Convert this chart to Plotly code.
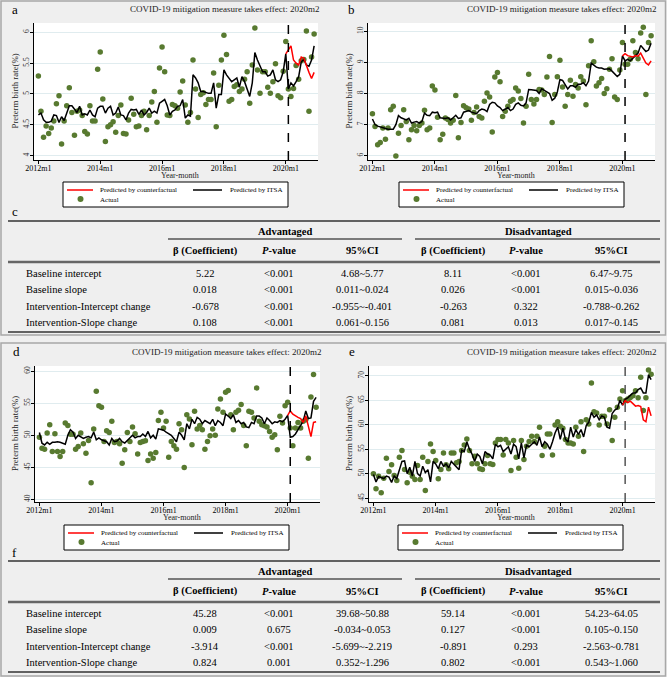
import plotly.graph_objects as go

W, H = 667, 677
FONT = "Liberation Serif"

# ---------------- data ----------------
months = list(range(108))           # 0 = 2012m1 ... 107 = 2020m12
cf_months = list(range(96, 108))
x_tickvals = [0, 24, 48, 72, 96]
x_ticklabels = ["2012m1", "2014m1", "2016m1", "2018m1", "2020m1"]
intervention_month = 97             # 2020m2

actual_a = [5.29,4.72,4.30,4.48,4.36,4.45,4.56,4.84,4.97,4.19,
            4.56,4.81,5.10,4.70,4.33,4.72,4.74,4.65,4.39,4.35,
            4.81,4.56,4.56,5.40,5.68,4.92,4.23,4.47,4.50,4.55,
            4.38,4.65,4.82,4.36,4.35,4.58,4.93,4.67,4.47,4.48,
            4.65,4.72,4.42,4.65,4.87,5.04,4.54,5.42,5.76,5.36,
            4.66,4.65,4.83,4.81,4.77,5.03,5.21,4.82,4.54,4.70,
            5.55,5.08,4.62,4.99,5.02,4.83,4.91,4.91,5.34,4.47,
            5.14,5.55,5.95,5.64,4.88,4.91,5.12,5.15,5.04,5.08,
            5.24,5.36,4.85,5.47,6.07,5.39,5.01,5.36,5.36,5.11,
            5.01,5.20,5.49,4.97,4.94,5.37,5.85,5.08,4.96,5.09,
            5.46,5.24,5.54,5.56,6.02,4.72,5.60,5.97]
itsa_a = [4.66,4.69,4.58,4.54,4.54,4.56,4.66,4.65,4.54,4.63,
          4.57,4.69,4.81,4.81,4.75,4.70,4.80,4.66,4.68,4.66,
          4.74,4.66,4.63,4.77,4.80,4.80,4.69,4.77,4.80,4.66,
          4.69,4.79,4.66,4.65,4.58,4.69,4.75,4.74,4.75,4.67,
          4.74,4.66,4.70,4.77,4.69,4.72,4.69,4.85,4.88,4.91,
          4.81,4.66,4.72,4.74,4.80,4.81,4.91,4.61,4.66,4.64,
          5.31,5.26,5.18,5.04,5.04,5.02,5.01,5.01,5.18,4.77,
          4.99,4.99,5.39,5.31,5.26,5.20,5.23,5.26,5.11,5.28,
          5.20,5.07,4.96,5.18,5.67,5.55,5.44,5.36,5.36,5.29,
          5.31,5.39,5.23,5.20,5.23,5.36,5.65,5.08,5.18,5.13,
          5.20,5.28,5.52,5.56,5.47,5.45,5.55,5.78]
cf_a = [5.65,5.72,5.78,5.55,5.50,5.47,5.60,5.58,5.45,5.35,5.25,5.35]

actual_b = [7.35,6.94,6.35,6.42,6.89,6.53,6.89,7.48,7.59,5.99,
            6.72,6.97,7.48,7.10,6.51,6.83,6.97,6.80,6.97,7.05,
            7.46,6.83,6.89,8.24,8.11,7.24,6.51,6.69,7.21,7.16,
            7.05,7.14,7.94,6.58,7.07,7.61,7.54,7.50,7.14,7.39,
            7.57,7.26,7.21,7.75,8.02,7.89,6.76,8.53,8.68,8.38,
            7.26,7.43,7.59,7.75,7.81,8.18,8.08,7.84,7.05,7.59,
            8.62,7.81,7.66,7.81,8.13,8.11,7.97,8.53,9.19,7.07,
            7.97,8.54,9.07,8.21,7.59,7.97,8.43,7.91,8.29,8.18,
            8.54,8.40,7.64,8.89,9.70,9.02,8.24,8.35,8.48,8.00,
            8.15,8.78,9.12,7.89,7.81,8.76,9.64,8.94,8.94,9.10,
            9.70,9.32,9.12,9.95,10.13,7.97,9.64,9.86]
itsa_b = [7.18,7.00,6.95,6.92,6.90,6.88,6.85,6.85,6.85,7.00,
          7.29,7.22,7.18,7.15,7.20,7.05,7.08,7.10,7.05,7.10,
          7.37,7.30,7.29,7.40,7.38,7.40,7.22,7.20,7.20,7.22,
          7.15,7.22,7.30,7.20,7.22,7.40,7.42,7.45,7.40,7.38,
          7.35,7.45,7.50,7.48,7.42,7.65,7.72,7.70,7.60,7.55,
          7.45,7.50,7.55,7.45,7.50,7.65,7.70,7.62,7.60,7.70,
          8.13,8.12,8.10,8.10,8.00,8.15,8.10,8.05,8.00,7.78,
          7.85,8.05,8.45,8.42,8.30,8.15,8.25,8.25,8.20,8.30,
          8.30,8.35,8.25,8.40,8.98,8.92,8.85,8.82,8.82,8.78,
          8.78,8.80,8.72,8.65,8.55,8.62,9.21,9.05,9.10,9.05,
          9.15,9.22,9.30,9.55,9.45,9.35,9.40,9.62]
cf_b = [9.21,9.28,9.22,9.20,9.18,9.22,9.20,9.30,9.15,8.98,8.92,9.05]

actual_d = [49.71,47.99,47.83,50.34,51.64,47.47,50.23,47.47,46.68,47.47,
            51.91,51.54,50.18,50.18,47.83,48.25,50.34,48.67,47.21,49.19,
            42.61,50.97,56.87,54.62,54.36,49.03,50.70,50.44,52.17,48.88,
            49.03,48.67,45.64,47.73,50.44,49.03,51.28,50.23,47.10,48.88,
            49.03,49.14,46.06,47.10,46.42,47.31,52.32,53.58,51.12,52.17,
            46.58,49.03,48.36,47.83,51.80,50.86,44.96,53.21,52.53,48.51,
            53.73,50.97,51.54,50.86,47.83,49.03,49.92,50.97,50.00,54.10,
            55.67,53.58,56.71,56.97,53.21,50.86,53.58,53.89,54.78,51.54,
            48.36,53.73,53.58,52.69,57.39,52.17,51.64,51.49,51.28,50.60,
            49.71,50.08,47.73,52.95,51.91,54.62,55.14,51.12,48.36,51.12,
            52.01,51.12,52.17,52.43,46.42,55.98,59.48,54.36]
itsa_d = [50.44,48.77,48.50,48.90,48.60,48.90,48.90,49.00,48.90,48.80,
          48.60,50.00,50.86,50.50,49.50,50.00,49.80,49.50,49.70,49.80,
          49.60,50.50,49.30,49.60,49.30,49.20,49.00,48.50,49.50,49.00,
          49.10,49.50,49.00,48.80,49.20,49.50,50.00,49.60,49.80,49.80,
          50.20,49.80,50.60,49.60,50.00,49.40,51.00,50.90,50.80,50.50,
          50.20,50.00,49.50,49.00,50.50,50.00,49.30,51.80,51.00,52.50,
          51.80,52.80,52.50,51.80,52.30,52.00,51.80,52.50,51.50,52.30,
          52.00,51.50,53.30,53.00,52.60,53.20,52.00,52.30,51.80,52.00,
          51.30,51.20,52.00,51.80,53.00,53.00,52.70,51.80,52.70,52.30,
          51.80,52.10,52.00,52.30,52.10,52.50,53.10,49.70,49.80,50.20,
          50.80,51.50,52.20,53.80,52.60,52.70,55.30,55.90]
cf_d = [53.10,53.80,53.30,53.00,52.80,52.60,52.00,53.00,51.30,49.80,52.00,52.10]

actual_e = [49.96,46.90,49.48,46.09,49.08,53.15,50.43,51.79,49.62,48.60,
            53.36,54.71,50.84,48.13,50.30,49.48,48.80,51.66,48.80,53.36,
            46.56,52.47,56.07,54.51,52.68,48.94,50.84,54.24,51.79,50.98,
            54.24,54.24,52.20,52.47,54.71,55.87,57.09,54.71,52.00,53.56,
            52.00,50.98,50.84,52.00,53.70,52.00,51.86,56.28,56.96,56.96,
            53.83,56.96,56.28,50.64,56.75,53.36,51.11,56.75,52.88,55.60,
            56.55,57.64,56.55,57.64,59.47,53.70,55.60,58.11,58.11,53.83,
            59.95,60.62,59.67,59.27,56.96,56.28,56.28,56.07,59.47,57.64,
            60.62,54.51,61.03,60.15,68.51,62.66,62.39,59.95,61.71,61.71,
            60.15,63.07,56.75,61.51,63.55,65.24,66.94,64.90,65.24,65.58,
            65.92,66.94,65.50,69.70,62.90,65.50,71.20,70.30]
itsa_e = [49.8,48.3,49.4,49.2,49.0,49.5,49.3,48.2,49.5,49.0,
          51.0,52.5,52.6,50.0,51.3,49.5,52.5,50.0,49.5,51.5,
          50.2,50.8,48.3,52.5,52.0,51.0,52.5,51.5,52.0,51.2,
          52.5,52.0,51.5,50.8,54.8,54.5,56.5,55.0,54.0,52.5,
          54.0,53.5,52.0,54.5,54.0,53.8,53.0,56.0,55.5,55.8,
          54.5,55.0,55.5,54.0,56.0,55.5,53.0,56.3,53.2,55.8,
          55.5,56.0,56.5,55.8,57.5,55.5,56.5,56.0,55.0,56.5,
          58.3,59.5,57.0,59.3,57.0,56.5,59.5,57.5,59.0,58.0,
          59.0,57.5,59.8,60.5,62.5,61.5,62.0,61.0,61.8,61.5,
          59.5,59.3,62.3,63.0,63.3,65.0,64.0,65.2,65.5,66.0,
          66.5,66.5,67.2,67.5,66.5,66.5,70.2,69.2]
cf_e = [64.0,64.9,64.5,64.8,64.3,63.8,63.9,63.7,61.0,60.6,63.6,61.8]

row_labels = ["Baseline intercept", "Baseline slope",
              "Intervention-Intercept change", "Intervention-Slope change"]
col_headers = ["β (Coefficient)", "<i>P</i>-value", "95%CI"]
groups = ["Advantaged", "Disadvantaged"]

c_adv_beta = ["5.22", "0.018", "-0.678", "0.108"]
c_adv_p = ["<0.001", "<0.001", "<0.001", "<0.001"]
c_adv_ci = ["4.68~5.77", "0.011~0.024", "-0.955~-0.401", "0.061~0.156"]
c_dis_beta = ["8.11", "0.026", "-0.263", "0.081"]
c_dis_p = ["<0.001", "<0.001", "0.322", "0.013"]
c_dis_ci = ["6.47~9.75", "0.015~0.036", "-0.788~0.262", "0.017~0.145"]

f_adv_beta = ["45.28", "0.009", "-3.914", "0.824"]
f_adv_p = ["<0.001", "0.675", "<0.001", "0.001"]
f_adv_ci = ["39.68~50.88", "-0.034~0.053", "-5.699~-2.219", "0.352~1.296"]
f_dis_beta = ["59.14", "0.127", "-0.891", "0.802"]
f_dis_p = ["<0.001", "<0.001", "0.293", "<0.001"]
f_dis_ci = ["54.23~64.05", "0.105~0.150", "-2.563~0.781", "0.543~1.060"]

title_text = "COVID-19 mitigation measure takes effect: 2020m2"
ytitle = "Preterm birth rate(%)"
xtitle = "Year-month"

# ---------------- helpers ----------------
def X(px):
    return px / W

def Y(py):
    return 1 - py / H

fig = go.Figure()
shapes = []
annos = []

def txt(px, py, s, size, xanchor="center", angle=0, color="black"):
    s = s.replace("<0", "&lt;0")
    annos.append(dict(x=X(px), y=Y(py), xref="paper", yref="paper", text=s,
                      showarrow=False, xanchor=xanchor, yanchor="middle",
                      textangle=angle, font=dict(family=FONT, size=size, color=color)))

def hline(x0, x1, py, width, color):
    shapes.append(dict(type="line", xref="paper", yref="paper", x0=X(x0), x1=X(x1),
                       y0=Y(py), y1=Y(py), line=dict(color=color, width=width)))

# frames
for (y0, y1) in [(1, 335), (343, 676)]:
    shapes.append(dict(type="rect", xref="paper", yref="paper", x0=X(1), x1=X(665.5),
                       y0=Y(y1), y1=Y(y0), line=dict(color="#a8a8a8", width=1.5),
                       layer="below"))

panels = [
    dict(lab="a", xd=(34, 318), yd=(23, 160), yr=[3.93, 6.15],
         yt=[4, 4.5, 5, 5.5, 6], ytt=["4", "4.5", "5", "5.5", "6"],
         act=actual_a, itsa=itsa_a, cf=cf_a, dash="black", leg=(63, 182)),
    dict(lab="b", xd=(368, 655), yd=(23, 160), yr=[5.86, 10.27],
         yt=[6, 7, 8, 9, 10], ytt=["6", "7", "8", "9", "10"],
         act=actual_b, itsa=itsa_b, cf=cf_b, dash="black", leg=(399, 182)),
    dict(lab="d", xd=(35, 320), yd=(366, 502), yr=[39.6, 60.8],
         yt=[40, 45, 50, 55, 60], ytt=["40", "45", "50", "55", "60"],
         act=actual_d, itsa=itsa_d, cf=cf_d, dash="black", leg=(64, 525)),
    dict(lab="e", xd=(369, 655), yd=(366, 502), yr=[44.2, 72.0],
         yt=[45, 50, 55, 60, 65, 70], ytt=["45", "50", "55", "60", "65", "70"],
         act=actual_e, itsa=itsa_e, cf=cf_e, dash="#555555", leg=(398, 525)),
]

layout_axes = {}
for i, p in enumerate(panels):
    n = "" if i == 0 else str(i + 1)
    xa, ya = "x" + n, "y" + n
    layout_axes["xaxis" + n] = dict(
        domain=[X(p["xd"][0]), X(p["xd"][1])], anchor=ya, range=[-1.7, 108.5],
        tickvals=x_tickvals, ticktext=x_ticklabels, showline=True, linecolor="black",
        linewidth=1, ticks="outside", ticklen=3, tickcolor="black", showgrid=False,
        zeroline=False, ticklabelstandoff=-3,
        tickfont=dict(family=FONT, size=8, color="black"))
    layout_axes["yaxis" + n] = dict(
        domain=[Y(p["yd"][1]), Y(p["yd"][0])], anchor=xa, range=p["yr"],
        tickvals=p["yt"], ticktext=p["ytt"], tickangle=-90, showline=True,
        linecolor="black", linewidth=1, ticks="outside", ticklen=3, tickcolor="black",
        showgrid=True, gridcolor="#e0ecef", gridwidth=1, zeroline=False,
        ticklabelstandoff=-2,
        tickfont=dict(family=FONT, size=7.5, color="#333333"))

    fig.add_trace(go.Scatter(x=months[:len(p["act"])], y=p["act"], mode="markers",
                             marker=dict(color="#587a30", size=5.5), xaxis=xa, yaxis=ya))
    fig.add_trace(go.Scatter(x=months[:len(p["itsa"])], y=p["itsa"], mode="lines",
                             line=dict(color="black", width=1.5), xaxis=xa, yaxis=ya))
    fig.add_trace(go.Scatter(x=cf_months[:len(p["cf"])], y=p["cf"], mode="lines",
                             line=dict(color="#ff0000", width=1.5), xaxis=xa, yaxis=ya))
    shapes.append(dict(type="line", xref=xa, yref=ya + " domain", x0=intervention_month,
                       x1=intervention_month, y0=0, y1=1,
                       line=dict(color=p["dash"], width=1.5, dash="dash")))

    x0, x1 = p["xd"]
    y0, y1 = p["yd"]
    top = y0 - 14
    txt(x1 + 4, top, title_text, 9, xanchor="right", color="#222222")
    txt(x0 - 24 if i % 2 == 0 else x0 - 22, top, p["lab"], 13, xanchor="left")
    txt(x0 - 20, (y0 + y1) / 2, ytitle, 8.8, angle=-90, color="#222222")
    txt((x0 + x1) / 2 + 4, y1 + 15, xtitle, 8, color="#222222")

    # legend box
    L, T = p["leg"]
    shapes.append(dict(type="rect", xref="paper", yref="paper", x0=X(L), x1=X(L + 225),
                       y0=Y(T + 25), y1=Y(T), fillcolor="white",
                       line=dict(color="black", width=1)))
    hline(L + 4, L + 30, T + 8, 1.5, "#ff0000")
    hline(L + 130, L + 159, T + 8, 1.5, "black")
    shapes.append(dict(type="circle", xref="paper", yref="paper", x0=X(L + 14.5),
                       x1=X(L + 20.5), y0=Y(T + 20), y1=Y(T + 14), fillcolor="#587a30",
                       line=dict(color="#587a30", width=0)))
    txt(L + 35, T + 8, "Predicted by counterfactual", 7, xanchor="left")
    txt(L + 165, T + 8, "Predicted by ITSA", 7, xanchor="left")
    txt(L + 35, T + 17.5, "Actual", 7, xanchor="left")

# ---------------- tables ----------------
col_x = [205, 279, 362, 453, 526, 611]
group_x = [285, 538]

def table(lab, top, cols):
    txt(10, top - 9, lab, 13, xanchor="left")
    hline(8, 660, top, 1.3, "#333333")
    for gx, g in zip(group_x, groups):
        txt(gx, top + 10, "<b>" + g + "</b>", 10.5)
    hline(168, 402, top + 18, 1.3, "#555555")
    hline(415, 660, top + 18, 1.3, "#555555")
    for j, cx in enumerate(col_x):
        txt(cx, top + 30, "<b>" + col_headers[j % 3] + "</b>", 10.5)
    hline(8, 660, top + 41, 2.5, "#666666")
    row_y = [top + 52, top + 68.5, top + 85, top + 101.5]
    for r, ry in enumerate(row_y):
        txt(24, ry, row_labels[r], 10.5, xanchor="left")
        for j, cx in enumerate(col_x):
            txt(cx, ry, cols[j][r], 10.5)
    hline(8, 660, top + 111, 1.5, "#333333")

table("c", 221, [c_adv_beta, c_adv_p, c_adv_ci, c_dis_beta, c_dis_p, c_dis_ci])
table("f", 561, [f_adv_beta, f_adv_p, f_adv_ci, f_dis_beta, f_dis_p, f_dis_ci])

fig.update_layout(
    width=W, height=H, margin=dict(l=0, r=0, t=0, b=0, autoexpand=False),
    paper_bgcolor="#efefef", plot_bgcolor="white", showlegend=False,
    shapes=shapes, annotations=annos, font=dict(family=FONT),
    **layout_axes)

fig.write_html("out.html", config={"displayModeBar": False},
               post_script="document.body.style.margin='0px';document.body.style.overflow='hidden';")
